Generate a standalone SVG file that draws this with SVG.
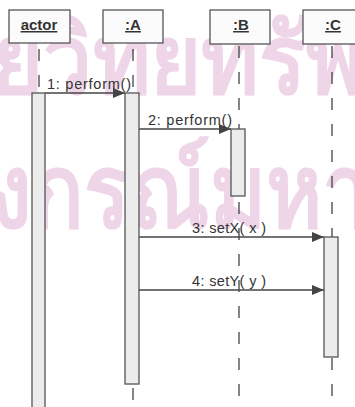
<svg xmlns="http://www.w3.org/2000/svg" width="355" height="407" viewBox="0 0 355 407">
<style>
.wm{font-family:"Noto Sans","DejaVu Sans",sans-serif;font-weight:600;fill:#eed5e7;}
.box{fill:#fbfbfb;stroke:#555;stroke-width:1.3;}
.name{font-family:"Liberation Sans",Arial,sans-serif;font-weight:bold;font-size:15px;fill:#333;text-anchor:middle;text-decoration:underline;}
.life{stroke:#444;stroke-width:1.3;stroke-dasharray:12 14;fill:none;}
.act{fill:#ececec;stroke:#555;stroke-width:1.3;}
.msg{stroke:#444;stroke-width:1.3;fill:none;marker-end:url(#ah);}
.lbl{font-family:"Liberation Sans",Arial,sans-serif;font-size:14.5px;fill:#333;}
</style>
<defs>
<marker id="ah" viewBox="0 0 12 10" refX="12" refY="5" markerWidth="12" markerHeight="10" markerUnits="userSpaceOnUse" orient="auto">
<path d="M0,0 L12,5 L0,10 z" fill="#444"/>
</marker>
</defs>
<g id="watermark">
<text class="wm" x="-8" y="93" font-size="96" textLength="372" lengthAdjust="spacingAndGlyphs">ยวิทยทรัพ</text>
<text class="wm" x="-10" y="227" font-size="102" textLength="380" lengthAdjust="spacingAndGlyphs">งกรณ์มหา</text>
</g>
<g id="connectors">
<line class="life" x1="39" y1="43" x2="39" y2="93" stroke-dashoffset="-6"/>
<line class="life" x1="133" y1="43" x2="133" y2="93" stroke-dashoffset="-6"/>
<line class="life" x1="133" y1="384" x2="133" y2="407" stroke-dashoffset="-4"/>
<line class="life" x1="239" y1="44" x2="239" y2="407" stroke-dashoffset="-2"/>
<line class="life" x1="332" y1="44" x2="332" y2="407" stroke-dashoffset="-2"/>
<line class="msg" x1="45" y1="93" x2="125" y2="93"/>
<line class="msg" x1="139" y1="129" x2="231" y2="129"/>
<line class="msg" x1="139" y1="237" x2="324" y2="237"/>
<line class="msg" x1="139" y1="290" x2="324" y2="290"/>
<text class="lbl" x="47" y="89" textLength="84">1: perform()</text>
<text class="lbl" x="148" y="125" textLength="84">2: perform()</text>
<text class="lbl" x="192" y="233" textLength="74">3: setX( x )</text>
<text class="lbl" x="192" y="286" textLength="74">4: setY( y )</text>
</g>
<g id="actor">
<rect class="box" x="9" y="10" width="61" height="33"/>
<text class="name" x="39" y="30">actor</text>
<rect class="act" x="32" y="93" width="13" height="320"/>
</g>
<g id="A">
<rect class="box" x="103" y="10" width="60" height="33"/>
<text class="name" x="133" y="30">:A</text>
<rect class="act" x="125" y="93" width="14" height="291"/>
</g>
<g id="B">
<rect class="box" x="210" y="10" width="60" height="34"/>
<text class="name" x="241" y="30">:B</text>
<rect class="act" x="231" y="129" width="14" height="67"/>
</g>
<g id="C">
<rect class="box" x="303" y="10" width="60" height="34"/>
<text class="name" x="333" y="30">:C</text>
<rect class="act" x="324" y="237" width="14" height="120"/>
</g>
</svg>
